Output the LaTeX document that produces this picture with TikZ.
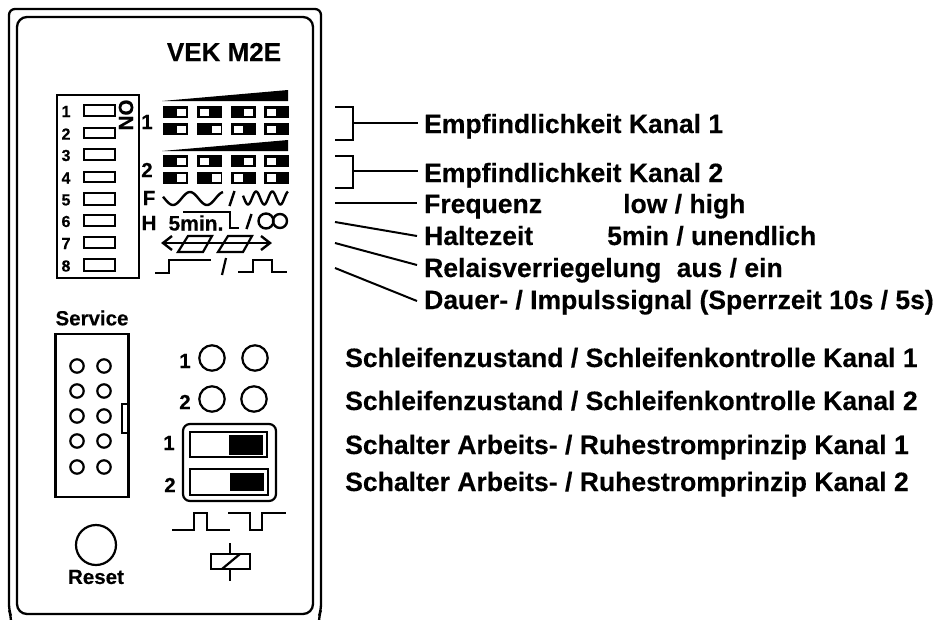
\documentclass[tikz,border=0pt]{standalone}
\usepackage{fontspec}
\setmainfont[BoldFeatures={FakeBold=0.3}]{Liberation Sans}
\tikzset{
 ln/.style={draw=black,line width=2.2pt,line join=miter},
 lab/.style={inner sep=0pt,anchor=base west,font=\fontsize{26.5}{26.5}\selectfont\bfseries},
 labb/.style={inner sep=0pt,anchor=base west,font=\fontsize{26.55}{26.5}\selectfont\bfseries},
 num/.style={inner sep=0pt,font=\fontsize{16}{16}\selectfont\bfseries},
 mid/.style={inner sep=0pt,font=\fontsize{20.5}{20}\selectfont\bfseries},
 conn/.style={draw=black,line width=2pt},
}
\newcommand{\dipcell}[3]{%
 \fill[black] (#1,#2) rectangle ++(25,12);
 \fill[white] (#1+#3,#2+2.5) rectangle ++(9,7.5);
}
\begin{document}
\begin{tikzpicture}[x=1pt,y=-1pt]
\useasboundingbox (0,0) rectangle (939,619);
\fill[white] (0,0) rectangle (939,619);
% housing
\draw[ln,line width=2.3pt,rounded corners=6pt] (11,622) -- (11,616) -- (9,610) -- (9,9) -- (321,9) -- (321,610) -- (319,616) -- (319,622);
\draw[ln,line width=2.3pt,rounded corners=10pt] (17,17) rectangle (313,614);
\node[inner sep=0pt,font=\fontsize{26}{26}\selectfont\bfseries] (title) at (224,52) {VEK M2E};
% DIP box
\draw[ln] (57,95) rectangle (139,278);
\foreach \n/\a/\b in {1/105/116,2/128/138,3/149/160,4/172/182,5/193/205,6/215/226,7/237/248,8/259/271}{
  \node[num] (d\n) at (66,{(\a+\b)/2+1}) {\n};
  \draw[ln] (84,\a) rectangle (115,\b);
}
\node[mid,rotate=-90] (on) at (126,115) {ON};
% sensitivity symbols
\node[mid] (k1) at (147,122) {1};
\node[mid] (k2) at (147,170) {2};
\fill[black] (162,101) -- (288,90) -- (288,101) -- cycle;
\fill[black] (162,151) -- (288,140) -- (288,151) -- cycle;
\dipcell{163}{106}{14}\dipcell{197}{106}{2.5}\dipcell{231}{106}{13}\dipcell{263.5}{106}{3}
\dipcell{163}{123}{14}\dipcell{197}{123}{15}\dipcell{231}{123}{2.5}\dipcell{263.5}{123}{3}
\dipcell{163}{155}{14}\dipcell{197}{155}{2.5}\dipcell{231}{155}{13}\dipcell{263.5}{155}{3}
\dipcell{163}{171.5}{14}\dipcell{197}{171.5}{15}\dipcell{231}{171.5}{2.5}\dipcell{263.5}{171.5}{3}
% F
\node[mid] (f) at (149,198) {F};
\draw[ln,line width=2.4pt] plot[smooth,domain=163:223,samples=50] (\x,{198.5+6.5*cos((\x-173)/34*360)});
\draw[ln,line width=2.4pt] (229.5,206) -- (234.5,191);
\draw[ln,line width=2.4pt] plot[smooth,domain=243:288,samples=60] (\x,{198+6.5*cos((\x-248)/16.2*360)});
% H
\node[mid] (h) at (149,223) {H};
\node[mid,font=\fontsize{21}{21}\selectfont\bfseries] (fivemin) at (196,223) {5min.};
\draw[ln] (183,212) -- (230,212) -- (230,228) -- (239,228);
\draw[ln,line width=2.4pt] (246.5,229) -- (251.5,214);
\draw[ln,line width=2.4pt] (266,221) circle[radius=7.5];
\draw[ln,line width=2.4pt] (280,221) circle[radius=7];
% lock
\draw[ln] (163,243) -- (270,243);
\draw[ln,line width=2.4pt] (172,236) -- (163,243) -- (172,250);
\draw[ln,line width=2.4pt] (261,236) -- (270,243) -- (261,250);
\draw[ln] (188,236) -- (212,236) -- (203,252) -- (178,252) -- cycle;
\draw[ln] (228,236) -- (252,236) -- (243,252) -- (218,252) -- cycle;
% pulses
\draw[ln] (155,273) -- (169,273) -- (169,260) -- (211,260);
\draw[ln] (226,258) -- (222,275);
\draw[ln] (238,272) -- (253,272) -- (253,260) -- (272,260) -- (272,272) -- (287,272);
% service
\node[mid] (srv) at (92,318) {Service};
\draw[ln] (55.5,334) rectangle (128.5,497);
\draw[ln] (122,404) rectangle (128.5,433);
\foreach \y in {366,391,416,441,467}{
  \draw[ln] (77,\y) circle[radius=6.7];
  \draw[ln] (104,\y) circle[radius=6.7];
}
% LEDs
\node[mid] (l1) at (185,361) {1};
\node[mid] (l2) at (185,402) {2};
\draw[ln] (212,358) circle[radius=12.7];
\draw[ln] (255,358) circle[radius=12.7];
\draw[ln] (212,399) circle[radius=12.7];
\draw[ln] (254,399) circle[radius=12.7];
% switches
\node[mid] (s1) at (169,443) {1};
\node[mid] (s2) at (170,485) {2};
\draw[ln,rounded corners=7pt] (183,424) rectangle (276,501);
\draw[ln] (190,432) rectangle (267,457);
\fill[black] (229,435) rectangle (263,455);
\draw[ln] (190,469) rectangle (268,495);
\fill[black] (230,473) rectangle (264,491);
\draw[ln] (172,530) -- (194,530) -- (194,513) -- (207,513) -- (207,530) -- (230,530);
\draw[ln] (228,513) -- (250,513) -- (250,530) -- (262,530) -- (262,513) -- (286,513);
% relay
\draw[ln] (211,554) rectangle (250,569);
\draw[ln] (230,543) -- (230,554);
\draw[ln] (230,569) -- (230,581);
\draw[ln] (222,569) -- (240,554);
% reset
\draw[ln] (96,545) circle[radius=20];
\node[mid] (rst) at (96,577) {Reset};
% labels
\node[lab] (t1) at (424,133) {Empfindlichkeit Kanal 1};
\node[lab] (t2) at (424,182) {Empfindlichkeit Kanal 2};
\node[lab] (t3) at (424,213) {Frequenz};
\node[lab] (t3b) at (623,213) {low / high};
\node[lab] (t4) at (424,245) {Haltezeit};
\node[lab] (t4b) at (607,245) {5min / unendlich};
\node[lab] (t5) at (424,277) {Relaisverriegelung\hspace{8pt} aus / ein};
\node[lab] (t6) at (424,309) {Dauer- / Impulssignal (Sperrzeit 10s / 5s)};
\node[labb] (u1) at (345,367) {Schleifenzustand / Schleifenkontrolle Kanal 1};
\node[labb] (u2) at (345,410) {Schleifenzustand / Schleifenkontrolle Kanal 2};
\node[labb] (u3) at (345,454) {Schalter Arbeits- / Ruhestromprinzip Kanal 1};
\node[labb] (u4) at (345,491) {Schalter Arbeits- / Ruhestromprinzip Kanal 2};
% connectors
\coordinate (b1) at (353,123);
\coordinate (b2) at (353,171);
\coordinate (e1) at (418,123);
\coordinate (e2) at (418,171);
\coordinate (s3) at (335,203); \coordinate (e3) at (417,203);
\coordinate (s4) at (335,222); \coordinate (e4) at (417,236);
\coordinate (s5) at (335,243); \coordinate (e5) at (417,265);
\coordinate (s6) at (335,268); \coordinate (e6) at (417,301);
\draw[conn] (335,107) -| (353,140) -- (335,140);
\draw[conn] (335,156) -| (353,188) -- (335,188);
\draw[conn] (b1) -- (e1);
\draw[conn] (b2) -- (e2);
\draw[conn] (s3) -- (e3);
\draw[conn] (s4) -- (e4);
\draw[conn] (s5) -- (e5);
\draw[conn] (s6) -- (e6);
\end{tikzpicture}
\end{document}
